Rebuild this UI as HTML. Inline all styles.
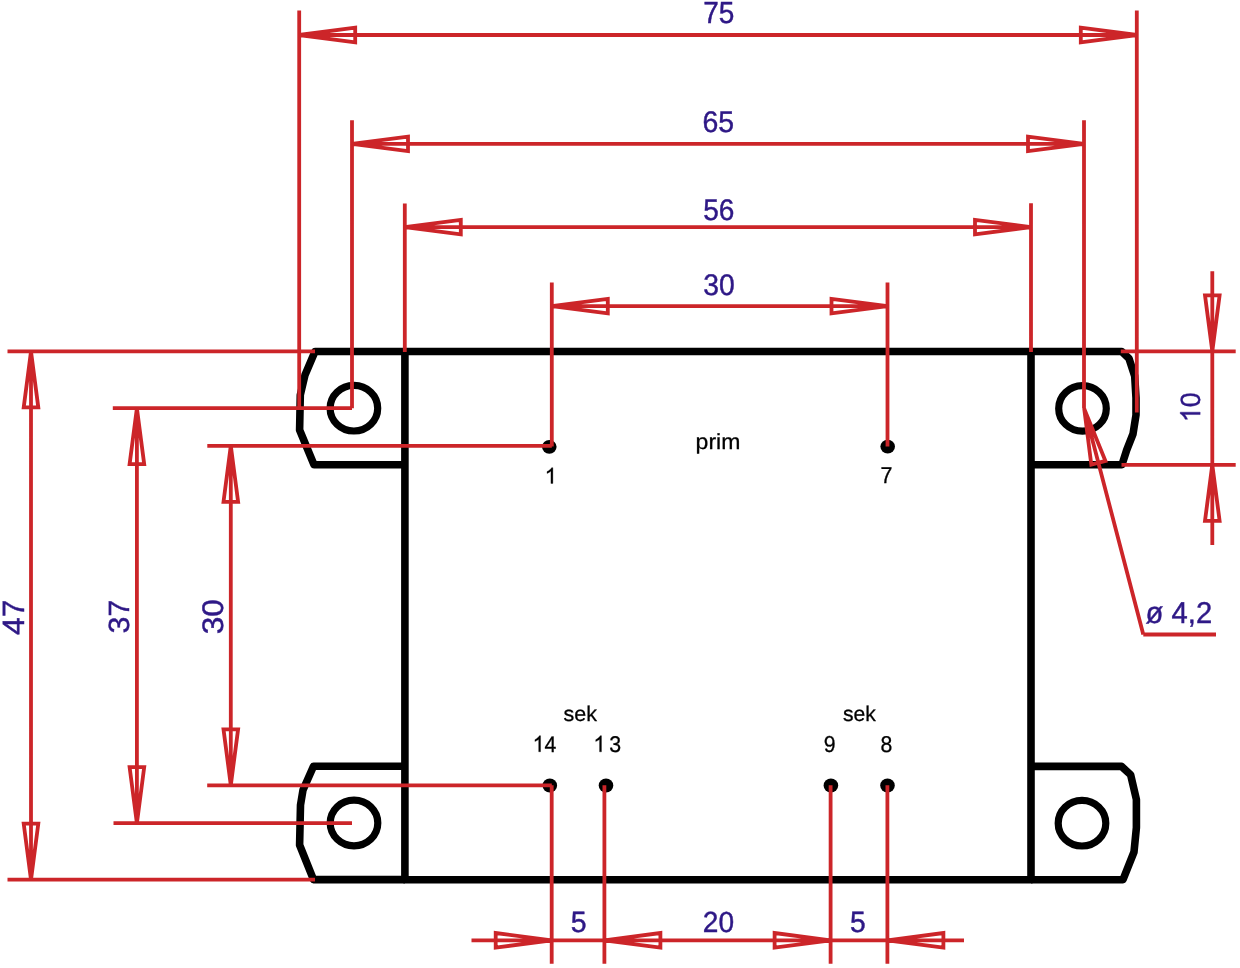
<!DOCTYPE html>
<html><head><meta charset="utf-8"><title>Transformer drawing</title>
<style>html,body{margin:0;padding:0;background:#fff;overflow:hidden}svg{display:block;filter:blur(0.35px)}</style>
</head><body>
<svg width="1240" height="968" viewBox="0 0 1240 968">
<rect width="1240" height="968" fill="#fff"/>
<g fill="none" stroke="#000" stroke-width="7.6" stroke-linejoin="round" stroke-linecap="butt">
<path d="M404.9 351.5L1031 351.5L1031 879.7L404.9 879.7Z"/>
<path d="M404.9 351.5L315 351.5L305 375L300.3 395L299.6 430L314 464.7L404.9 464.7"/>
<path d="M404.9 766.3L313.5 766.3L303 790L300.5 805L299.6 845L313.5 879.6L404.9 879.6"/>
<path d="M1031 351.5L1121.7 351.5L1129 358.5L1134.7 376L1136 398L1136 415L1133 434L1126.7 450L1122 464.7L1031 464.7"/>
<path d="M1031 766.4L1121.5 766.4L1130.6 774.7L1136.4 799.5L1136.4 827.6L1134 852L1123 879.7L1031 879.7"/>
<ellipse cx="353.9" cy="408.2" rx="23.8" ry="22.8" stroke-width="7.2"/>
<ellipse cx="354.0" cy="823.0" rx="23.8" ry="22.8" stroke-width="7.2"/>
<ellipse cx="1082.5" cy="408.4" rx="23.8" ry="22.8" stroke-width="7.2"/>
<ellipse cx="1082.0" cy="823.2" rx="23.8" ry="22.8" stroke-width="7.2"/>
</g>
<g fill="#000">
<ellipse cx="549.3" cy="446.8" rx="7.3" ry="6.9"/>
<ellipse cx="887.7" cy="446.6" rx="7.3" ry="6.9"/>
<ellipse cx="549.8" cy="785.5" rx="7.3" ry="6.9"/>
<ellipse cx="606.0" cy="785.5" rx="7.3" ry="6.9"/>
<ellipse cx="830.9" cy="785.5" rx="7.3" ry="6.9"/>
<ellipse cx="887.5" cy="785.5" rx="7.3" ry="6.9"/>
</g>
<path fill="none" stroke="#cc2529" stroke-width="3.8" stroke-linecap="butt" stroke-linejoin="miter" d="M299.20 35.00L1136.80 35.00M299.20 10.50L299.20 410.00M1136.80 10.50L1136.80 412.50M299.20 35.00L355.20 42.30L355.20 27.70ZM1136.80 35.00L1080.80 27.70L1080.80 42.30ZM352.00 143.90L1084.00 143.90M352.00 120.20L352.00 408.30M1084.00 120.20L1084.00 408.50M352.00 143.90L408.00 151.20L408.00 136.60ZM1084.00 143.90L1028.00 136.60L1028.00 151.20ZM404.80 227.10L1031.00 227.10M404.80 203.40L404.80 352.00M1031.00 203.20L1031.00 352.00M404.80 227.10L460.80 234.40L460.80 219.80ZM1031.00 227.10L975.00 219.80L975.00 234.40ZM551.80 306.10L887.50 306.10M551.80 282.40L551.80 446.50M887.50 282.50L887.50 446.50M551.80 306.10L607.80 313.40L607.80 298.80ZM887.50 306.10L831.50 298.80L831.50 313.40ZM31.00 351.40L31.00 879.70M7.50 351.40L315.00 351.40M7.50 879.70L315.00 879.70M31.00 351.40L23.70 407.40L38.30 407.40ZM31.00 879.70L38.30 823.70L23.70 823.70ZM136.90 408.20L136.90 823.20M112.80 408.20L352.00 408.20M113.50 823.20L352.00 823.20M136.90 408.20L129.60 464.20L144.20 464.20ZM136.90 823.20L144.20 767.20L129.60 767.20ZM230.80 445.80L230.80 785.30M207.30 445.80L551.80 445.80M207.20 785.30L551.80 785.30M230.80 445.80L223.50 501.80L238.10 501.80ZM230.80 785.30L238.10 729.30L223.50 729.30ZM1212.30 271.20L1212.30 545.00M1120.80 351.30L1235.70 351.30M1121.50 464.80L1235.70 464.80M1212.30 351.30L1219.60 295.30L1205.00 295.30ZM1212.30 464.80L1205.00 520.80L1219.60 520.80ZM1084.20 408.60L1143.30 634.50M1143.30 634.50L1216.00 634.50M1084.20 408.60L1091.31 464.62L1105.44 460.93ZM471.50 940.30L964.00 940.30M551.70 785.30L551.70 963.80M604.40 785.30L604.40 963.80M830.60 785.30L830.60 963.80M887.40 785.30L887.40 963.80M551.70 940.30L495.70 933.00L495.70 947.60ZM604.40 940.30L660.40 947.60L660.40 933.00ZM830.60 940.30L774.60 933.00L774.60 947.60ZM887.40 940.30L943.40 947.60L943.40 933.00Z"/>
<g font-family="Liberation Sans, sans-serif" text-rendering="geometricPrecision">
<g transform="translate(703.16 23.04) scale(0.9322 1.0145)"><g stroke="#2e1886" stroke-width="0.45"><text font-size="30" fill="#2e1886">75</text></g></g>
<g transform="translate(702.44 132.25) scale(0.9479 0.9931)"><g stroke="#2e1886" stroke-width="0.45"><text font-size="30" fill="#2e1886">65</text></g></g>
<g transform="translate(703.13 219.75) scale(0.9345 0.9935)"><g stroke="#2e1886" stroke-width="0.45"><text font-size="30" fill="#2e1886">56</text></g></g>
<g transform="translate(703.13 295.35) scale(0.9438 0.9931)"><g stroke="#2e1886" stroke-width="0.45"><text font-size="30" fill="#2e1886">30</text></g></g>
<g transform="translate(702.75 932.11) scale(0.9370 0.9675)"><g stroke="#2e1886" stroke-width="0.45"><text font-size="30" fill="#2e1886">20</text></g></g>
<g transform="translate(570.72 932.06) scale(0.9484 0.9819)"><g stroke="#2e1886" stroke-width="0.45"><text font-size="30" fill="#2e1886">5</text></g></g>
<g transform="translate(850.02 931.76) scale(0.9418 0.9819)"><g stroke="#2e1886" stroke-width="0.45"><text font-size="30" fill="#2e1886">5</text></g></g>
<g transform="translate(1145.55 623.38) scale(0.9740 1.0051)"><g stroke="#2e1886" stroke-width="0.45"><text font-size="30" fill="#2e1886">ø 4,2</text></g></g>
<g transform="translate(23.64 635.03) rotate(-90) scale(1.0625 1.0242)"><g stroke="#2e1886" stroke-width="0.45"><text font-size="30" fill="#2e1886">47</text></g></g>
<g transform="translate(128.77 633.43) rotate(-90) scale(1.0131 0.9748)"><g stroke="#2e1886" stroke-width="0.45"><text font-size="30" fill="#2e1886">37</text></g></g>
<g transform="translate(223.26 634.36) rotate(-90) scale(1.0504 0.9885)"><g stroke="#2e1886" stroke-width="0.45"><text font-size="30" fill="#2e1886">30</text></g></g>
<g transform="translate(1200.14 422.17) rotate(-90) scale(0.8917 0.9260)"><g stroke="#2e1886" stroke-width="0.45"><path transform="translate(0.00 0) scale(30)" fill="#2e1886" vector-effect="non-scaling-stroke" d="M0.373 0L0.285 0L0.285 -0.560C0.264 -0.540 0.236 -0.520 0.201 -0.499C0.167 -0.479 0.136 -0.464 0.108 -0.453L0.108 -0.538C0.157 -0.561 0.200 -0.589 0.237 -0.622C0.274 -0.655 0.300 -0.687 0.316 -0.716L0.373 -0.716Z"/><text x="16.68" font-size="30" fill="#2e1886">0</text></g></g>
<g transform="translate(695.59 448.85) scale(1.0008 0.9470)"><g stroke="#000" stroke-width="0.3"><text font-size="23" fill="#000">prim</text></g></g>
<g transform="translate(544.67 483.46) scale(0.9555 0.9601)"><g stroke="#000" stroke-width="0.3"><path transform="translate(0.00 0) scale(23)" fill="#000" vector-effect="non-scaling-stroke" d="M0.373 0L0.285 0L0.285 -0.560C0.264 -0.540 0.236 -0.520 0.201 -0.499C0.167 -0.479 0.136 -0.464 0.108 -0.453L0.108 -0.538C0.157 -0.561 0.200 -0.589 0.237 -0.622C0.274 -0.655 0.300 -0.687 0.316 -0.716L0.373 -0.716Z"/></g></g>
<g transform="translate(880.43 483.35) scale(0.9310 1.0001)"><g stroke="#000" stroke-width="0.3"><text font-size="23" fill="#000">7</text></g></g>
<g transform="translate(563.60 720.89) scale(0.9337 0.9260)"><g stroke="#000" stroke-width="0.3"><text font-size="23" fill="#000">sek</text></g></g>
<g transform="translate(532.64 751.75) scale(0.9229 0.9778)"><g stroke="#000" stroke-width="0.3"><path transform="translate(0.00 0) scale(23)" fill="#000" vector-effect="non-scaling-stroke" d="M0.373 0L0.285 0L0.285 -0.560C0.264 -0.540 0.236 -0.520 0.201 -0.499C0.167 -0.479 0.136 -0.464 0.108 -0.453L0.108 -0.538C0.157 -0.561 0.200 -0.589 0.237 -0.622C0.274 -0.655 0.300 -0.687 0.316 -0.716L0.373 -0.716Z"/><text x="12.79" font-size="23" fill="#000">4</text></g></g>
<g transform="translate(593.40 751.86) scale(0.9398 0.9840)"><g stroke="#000" stroke-width="0.3"><path transform="translate(0.00 0) scale(23)" fill="#000" vector-effect="non-scaling-stroke" d="M0.373 0L0.285 0L0.285 -0.560C0.264 -0.540 0.236 -0.520 0.201 -0.499C0.167 -0.479 0.136 -0.464 0.108 -0.453L0.108 -0.538C0.157 -0.561 0.200 -0.589 0.237 -0.622C0.274 -0.655 0.300 -0.687 0.316 -0.716L0.373 -0.716Z"/></g></g>
<g transform="translate(609.17 751.56) scale(0.9282 0.9905)"><g stroke="#000" stroke-width="0.3"><text font-size="23" fill="#000">3</text></g></g>
<g transform="translate(843.00 720.89) scale(0.9170 0.9260)"><g stroke="#000" stroke-width="0.3"><text font-size="23" fill="#000">sek</text></g></g>
<g transform="translate(823.86 751.66) scale(0.9248 0.9982)"><g stroke="#000" stroke-width="0.3"><text font-size="23" fill="#000">9</text></g></g>
<g transform="translate(880.43 751.56) scale(0.9234 0.9905)"><g stroke="#000" stroke-width="0.3"><text font-size="23" fill="#000">8</text></g></g>
</g>
</svg>
</body></html>
